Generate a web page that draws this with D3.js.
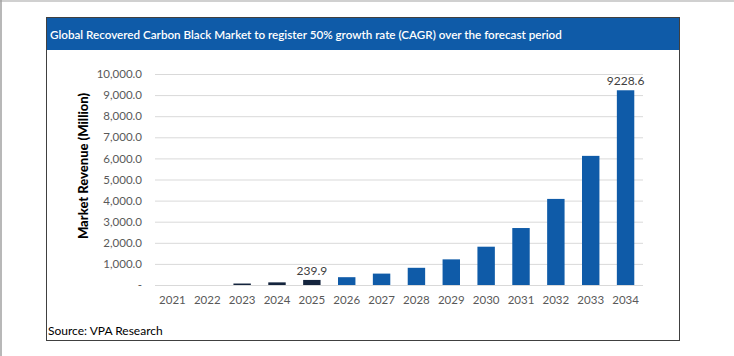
<!DOCTYPE html>
<html><head><meta charset="utf-8">
<script src="https://cdn.jsdelivr.net/npm/d3@7"></script>
<style>
html,body{margin:0;padding:0;background:#fff;}
svg{display:block;}
</style></head>
<body>
<svg id="chart" width="734" height="356"></svg>
<script>
const years = ["2021","2022","2023","2024","2025","2026","2027","2028","2029","2030","2031","2032","2033","2034"];
const revenue = [0, 0, 70, 125, 239.9, 370, 540, 815, 1215, 1815, 2700, 4080, 6120, 9228.6];
const historicalYears = ["2021","2022","2023","2024","2025"];
const yTicks = [0,1000,2000,3000,4000,5000,6000,7000,8000,9000,10000];
const labeledYears = ["2025","2034"];
const title = "Global Recovered Carbon Black Market to register 50% growth rate (CAGR) over the forecast period";
const yLabel = "Market Revenue (Million)";
const source = "Source: VPA Research";

const svg = d3.select("#chart");
const font = "Lato, 'Open Sans', sans-serif";

// outer page frame
svg.append("line").attr("x1",0).attr("x2",734).attr("y1",1).attr("y2",1).attr("stroke","#d0d0d0").attr("stroke-width",2);
svg.append("line").attr("x1",1).attr("x2",1).attr("y1",0).attr("y2",356).attr("stroke","#a0a0a0").attr("stroke-width",1.5);

// chart box
svg.append("rect").attr("x",46.5).attr("y",17.5).attr("width",633).attr("height",323)
  .attr("fill","#fff").attr("stroke","#404040").attr("stroke-width",1);
svg.append("rect").attr("x",47).attr("y",18).attr("width",632).attr("height",32).attr("fill","#0f5ba8");
svg.append("text").attr("x",50).attr("y",38.5).text(title)
  .attr("fill","#fff").attr("font-family",font).attr("font-size",11.65).attr("font-weight",600);

const x = d3.scaleBand().domain(years).range([155,643]).paddingInner(0.5).paddingOuter(0.25);
const y = d3.scaleLinear().domain([0,10000]).range([285,74]);

// gridlines
svg.append("g").selectAll("line").data(yTicks).join("line")
  .attr("x1",155).attr("x2",643)
  .attr("y1",d=>y(d)+0.5).attr("y2",d=>y(d)+0.5)
  .attr("stroke","#d9d9d9").attr("stroke-width",1);

// y axis labels
const yAxis = d3.axisLeft(y).tickValues(yTicks)
  .tickFormat(d => d===0 ? "-" : d3.format(",.1f")(d)).tickSize(0).tickPadding(0);
const gy = svg.append("g").attr("transform","translate(142,0)").call(yAxis);
gy.select(".domain").remove();
gy.selectAll("text").attr("font-family",font).attr("font-size",11.5).attr("fill","#595959");

// x axis labels
const xAxis = d3.axisBottom(x).tickSize(0).tickPadding(0);
const gx = svg.append("g").attr("transform","translate(0,296)").call(xAxis);
gx.select(".domain").remove();
gx.selectAll("text").attr("font-family",font).attr("font-size",11.5).attr("fill","#595959").attr("dy","0.71em");

// bars
svg.append("g").selectAll("rect").data(years).join("rect")
  .attr("x",d=>x(d)).attr("width",x.bandwidth())
  .attr("y",(d,i)=>y(revenue[i])).attr("height",(d,i)=>y(0)-y(revenue[i]))
  .attr("fill",d=>historicalYears.includes(d) ? "#14243d" : "#0f5ba8");

// data labels
svg.append("g").selectAll("text").data(labeledYears).join("text")
  .attr("x",d=>x(d)+x.bandwidth()/2)
  .attr("y",d=>y(revenue[years.indexOf(d)])-5)
  .attr("text-anchor","middle").text(d=>String(revenue[years.indexOf(d)]))
  .attr("font-family",font).attr("font-size",12).attr("fill","#404040");

// y label
svg.append("text").attr("transform","translate(88,166) rotate(-90)")
  .attr("text-anchor","middle").text(yLabel)
  .attr("font-family",font).attr("font-size",13).attr("font-weight",900).attr("fill","#000");

// source
svg.append("text").attr("x",48).attr("y",335).text(source)
  .attr("font-family",font).attr("font-size",12).attr("fill","#000");
</script>
</body></html>
